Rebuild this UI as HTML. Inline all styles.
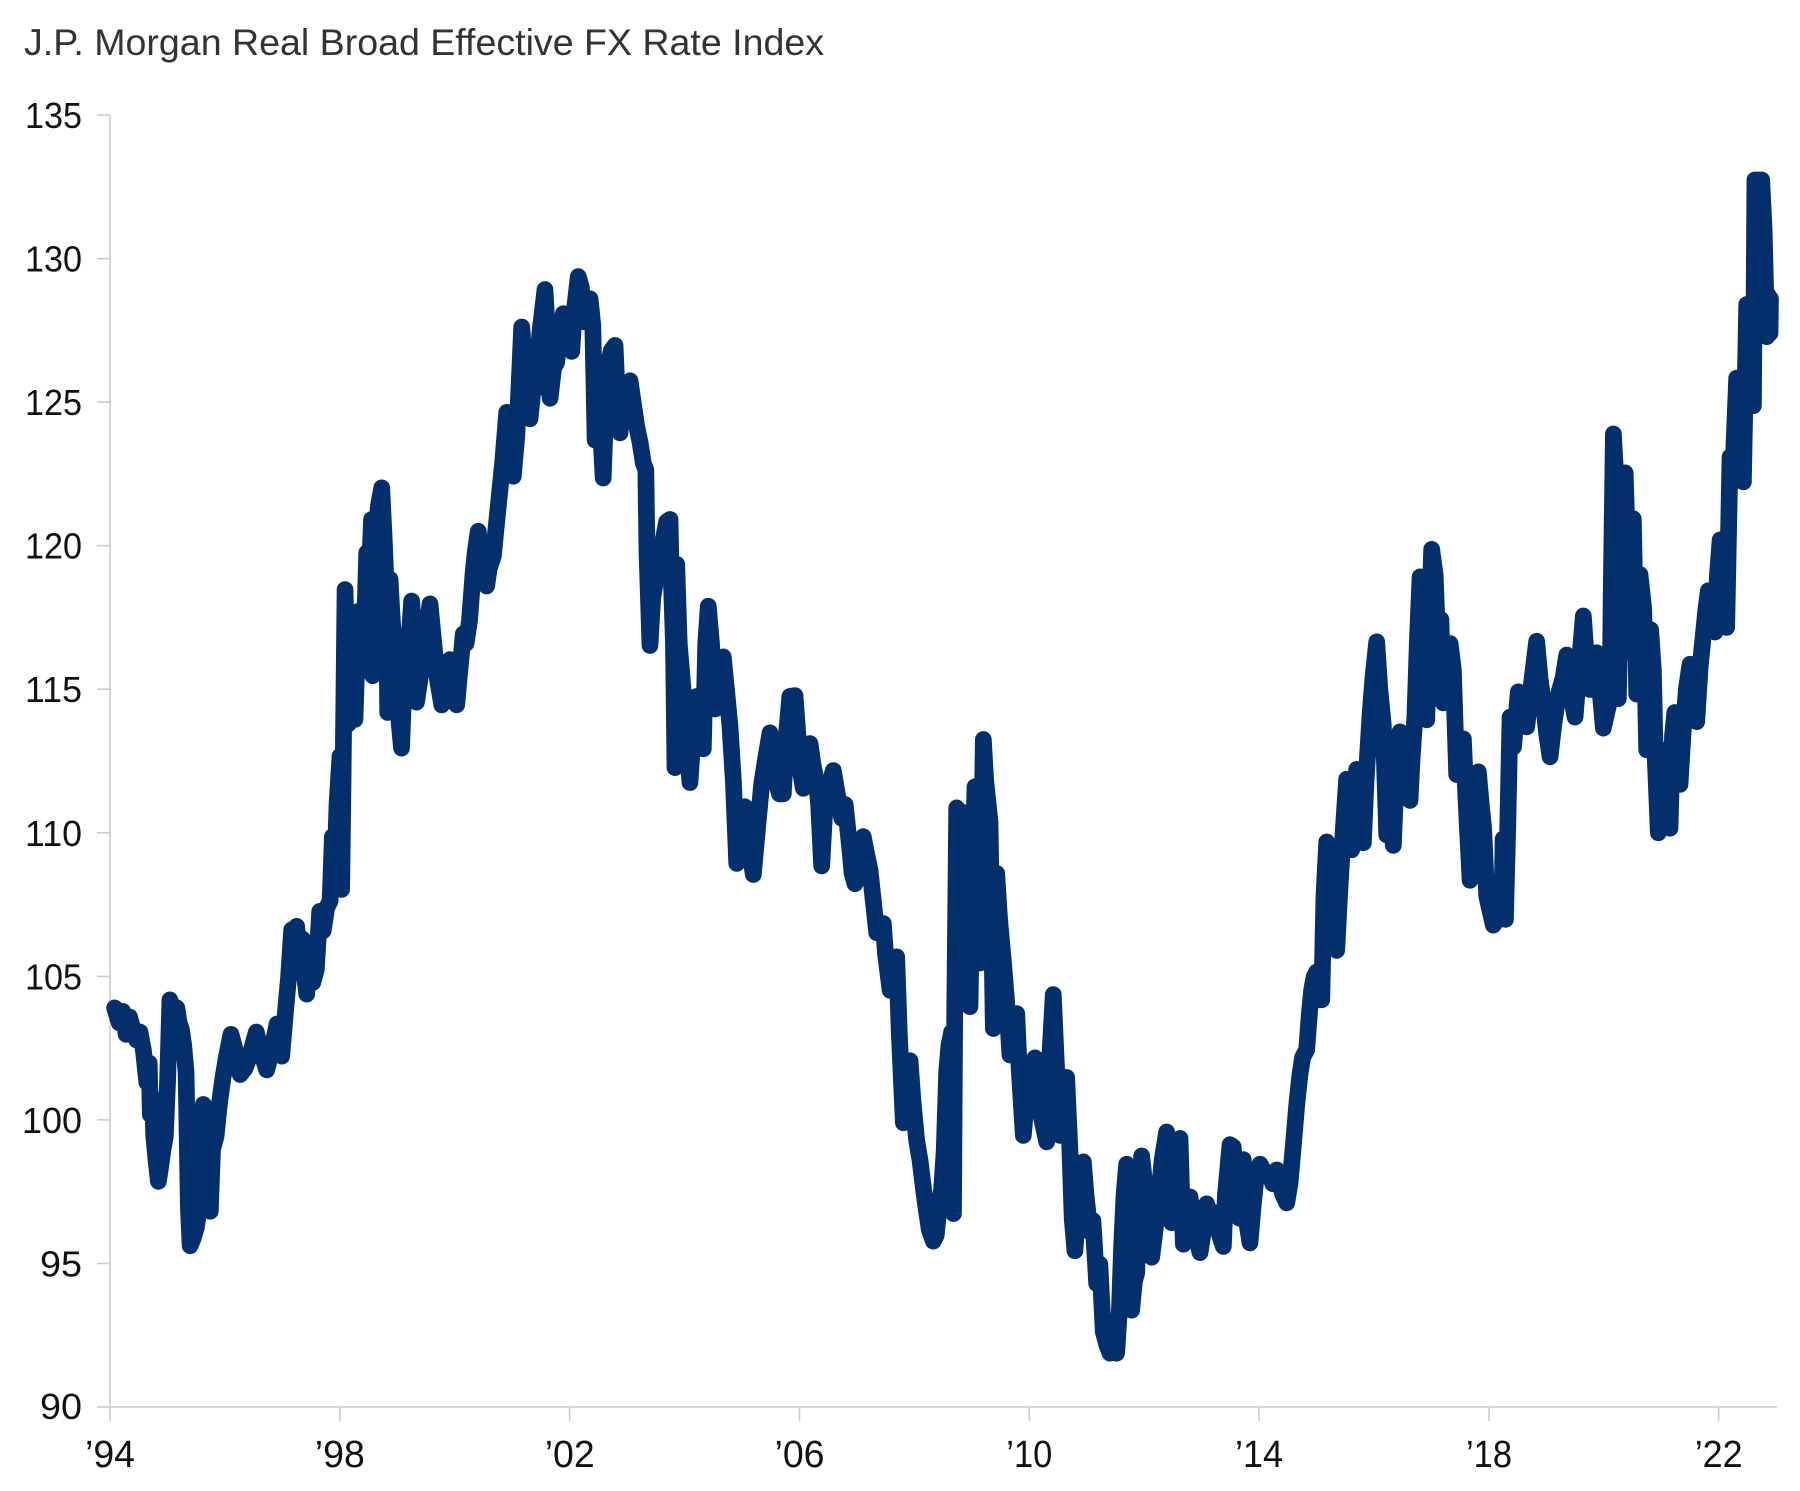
<!DOCTYPE html>
<html>
<head>
<meta charset="utf-8">
<style>
  html, body { margin: 0; padding: 0; background: #ffffff; }
  body { width: 1800px; height: 1491px; overflow: hidden; }
  svg { display: block; }
  text { font-family: "Liberation Sans", "DejaVu Sans", sans-serif; }
</style>
</head>
<body>
<svg width="1800" height="1491" viewBox="0 0 1800 1491" xmlns="http://www.w3.org/2000/svg">
  <rect x="0" y="0" width="1800" height="1491" fill="#ffffff"/>

  <!-- Title -->
  <text x="24" y="55" font-size="37" fill="#333333" textLength="800" lengthAdjust="spacingAndGlyphs">J.P. Morgan Real Broad Effective FX Rate Index</text>

  <!-- Axes -->
  <g stroke="#cccccc" stroke-width="1.6" fill="none">
    <line x1="110" y1="115" x2="110" y2="1407"/>
    <line x1="110" y1="1407" x2="1777" y2="1407"/>
    <line x1="97" y1="115" x2="110" y2="115"/>
    <line x1="97" y1="258.6" x2="110" y2="258.6"/>
    <line x1="97" y1="402.1" x2="110" y2="402.1"/>
    <line x1="97" y1="545.7" x2="110" y2="545.7"/>
    <line x1="97" y1="689.2" x2="110" y2="689.2"/>
    <line x1="97" y1="832.8" x2="110" y2="832.8"/>
    <line x1="97" y1="976.4" x2="110" y2="976.4"/>
    <line x1="97" y1="1119.9" x2="110" y2="1119.9"/>
    <line x1="97" y1="1263.5" x2="110" y2="1263.5"/>
    <line x1="97" y1="1407" x2="110" y2="1407"/>
    <line x1="110" y1="1407" x2="110" y2="1421"/>
    <line x1="339.8" y1="1407" x2="339.8" y2="1421"/>
    <line x1="569.7" y1="1407" x2="569.7" y2="1421"/>
    <line x1="799.5" y1="1407" x2="799.5" y2="1421"/>
    <line x1="1029.3" y1="1407" x2="1029.3" y2="1421"/>
    <line x1="1259" y1="1407" x2="1259" y2="1421"/>
    <line x1="1489" y1="1407" x2="1489" y2="1421"/>
    <line x1="1718.7" y1="1407" x2="1718.7" y2="1421"/>
  </g>

  <!-- Y labels -->
  <g font-size="36" fill="#111111" text-anchor="end">
    <text x="82" y="128" textLength="57" lengthAdjust="spacingAndGlyphs">135</text>
    <text x="82" y="271.6" textLength="57" lengthAdjust="spacingAndGlyphs">130</text>
    <text x="82" y="415.1" textLength="57" lengthAdjust="spacingAndGlyphs">125</text>
    <text x="82" y="558.7" textLength="57" lengthAdjust="spacingAndGlyphs">120</text>
    <text x="82" y="702.2" textLength="57" lengthAdjust="spacingAndGlyphs">115</text>
    <text x="82" y="845.8" textLength="57" lengthAdjust="spacingAndGlyphs">110</text>
    <text x="82" y="989.4" textLength="57" lengthAdjust="spacingAndGlyphs">105</text>
    <text x="82" y="1132.9" textLength="60" lengthAdjust="spacingAndGlyphs">100</text>
    <text x="82" y="1276.5" textLength="42" lengthAdjust="spacingAndGlyphs">95</text>
    <text x="82" y="1419" textLength="42" lengthAdjust="spacingAndGlyphs">90</text>
  </g>

  <!-- X labels -->
  <g font-size="38" fill="#111111" text-anchor="middle">
    <text x="110" y="1467" textLength="50" lengthAdjust="spacingAndGlyphs">’94</text>
    <text x="339.8" y="1467" textLength="50" lengthAdjust="spacingAndGlyphs">’98</text>
    <text x="569.7" y="1467" textLength="50" lengthAdjust="spacingAndGlyphs">’02</text>
    <text x="799.5" y="1467" textLength="50" lengthAdjust="spacingAndGlyphs">’06</text>
    <text x="1029.3" y="1467" textLength="46" lengthAdjust="spacingAndGlyphs">’10</text>
    <text x="1259" y="1467" textLength="48" lengthAdjust="spacingAndGlyphs">’14</text>
    <text x="1489" y="1467" textLength="46" lengthAdjust="spacingAndGlyphs">’18</text>
    <text x="1718.7" y="1467" textLength="48" lengthAdjust="spacingAndGlyphs">’22</text>
  </g>

  <!-- Series -->
  <g transform="matrix(1.1523 0 0 1.1493 0.53 -0.07)">
    <polyline fill="none" stroke="#03306c" stroke-width="14.5" stroke-linejoin="round" stroke-linecap="round"
      points="99,877 103,890 106,880 109,900 112,885 115,896 118,905 121,898 124,914 127,942 129,925 130,970 132,955 133,989 135,1010 137,1028 139,1015 141,1000 143,989 145,940 147,870 150,880 153,877 155,890 157,896 159,910 161,933 162,990 163,1050 164.5,1084 167,1078 170,1068 173,1045 176,961 178,1000 180,1030 182,1054 184,1000 187,989 190,960 193,938 196,920 200,900 204,915 208,935 212,930 216,920 220,905 222,898 226,915 231,931 235,915 240,891 244,919 248,872 250,850 252.7,809 255,830 257,806 260,840 262,817 264,850 265.7,865 268,830 271,855 274,844 277,793 280,810 283,790 286,784 288,728 290,760 292,700 294.6,658 295,720 296,774 297,700 299,513 300,560 301.8,630 304,600 307.6,626 310.5,532 313,560 315,579 317.8,481 320,500 322,452 323,588 325,480 328,440 330.8,424.5 333,470 335,520 336,620 337,540 338,504 340,540 342,565 344,600 346,630 348,651 350,600 351,555 353,580 356.8,523 359,560 361,611 364,591 368,560 372.7,525.5 376,560 379,590 382.9,613.4 386,590 390,574 393,600 395.9,613.4 398,590 401.6,551.6 404,560 407,540 410,500 412,480 414.6,462.3 418,490 421.9,510 424,495 427.7,483.7 430,460 433.5,425 436,400 439.3,358.8 442,385 445,414.5 448,380 452.3,284.5 455,320 459.5,364.5 462,340 465.3,338 468,290 472.5,252 475,300 476.9,346.6 480,320 482.6,315.5 485,290 488.4,273 492,290 495.7,305.8 498,270 501.4,240.7 504,250 506,280 509,265 511.6,260 514,283 516,383 518,330 520,360 523,416 525,360 527.4,318 530,305 533.3,300.6 535,340 537.6,376.7 540,350 543,335 546.3,331.3 549,350 552,370.6 555,385 557.8,403 560,409 561,480 563.6,561.7 566,520 569.4,500 572,480 575,470 578.1,454 581,452 582,500 584,560 585.3,668 586.8,491 589,560 592.5,602 595,640 598.3,681 601,640 604,606 607,620 609.9,651.6 612,560 614.2,527.5 617,560 620,617 624,590 627.2,571.6 630,600 633,631.6 636,680 638.9,751.3 642,720 646,702 650,740 653.3,761 657,720 660.6,682 664,660 667.8,637.7 670,660 673.6,682 676,690.8 679.3,690.8 682,640 685,606 689.5,605.3 692,640 694,670 696.7,686 699,660 702.5,647 705,665 708.3,682 710,700 712.6,753.5 715,710 717,692 720,680 722.7,670.5 726,690 730,712 733,700 737.2,740 739,760 741.5,769 744,750 748.7,728 751,740 754.5,757 757,780 760.4,811.7 763,805 766.1,803.6 768,830 772,861.7 775,845 777.7,832.6 780,900 783.5,977 786,940 789.3,923 792,960 795,992 798,1010 800.8,1033 803,1050 806,1070 809.5,1080 812,1075 814,1055 816.8,1034 819,1000 821.1,933 823,910 825.4,898 826,960 827,1056 828,890 829.8,703 832,710 835.5,707 838,740 840,800 841.3,876 843,780 845.7,684.6 848,760 850,838 852.9,643.5 855,680 858.7,715 861.6,895 863,820 864.5,760 867,800 870.3,836.5 873,870 876,918 879,890 881.9,882 884,930 887.6,988 890,960 893,930 897.7,920.5 900,945 903.5,973 905,980 907.9,993.6 910,930 913.6,865.4 916,920 919.4,988 922,960 925.2,937.5 928,1000 930,1060 932.4,1088.4 935,1050 939.7,1011 942,1040 945.5,1072 948,1062 951.3,1117 954,1100 957,1159 960,1170 962.8,1177.5 965,1165 968.6,1177.5 971,1140 973,1083 975,1040 977.3,1013 979,1070 981.6,1140 984,1115 986,1107.6 988,1040 990.3,1005.8 992.5,1026 995,1060 999,1094 1002,1070 1004.8,1045 1008,1010 1012,985 1014,1020 1016.4,1064 1020,1020 1023.6,990.6 1025,1040 1026.5,1082.7 1029,1060 1032.3,1041.5 1036,1070 1041,1090 1044,1070 1046.7,1047.5 1050,1060 1053,1055 1055.4,1064 1058,1075 1061.2,1084.6 1063,1040 1067,996 1069.8,998 1072,1030 1075,1060 1078.5,1009 1081,1060 1084.3,1081.5 1087,1050 1090,1020 1093,1013 1097,1020 1101.7,1022 1104,1030 1107.5,1018 1110,1030 1113,1040 1116.2,1046.7 1119,1030 1122,996 1125,960 1127.7,935 1130,920 1133.5,913.5 1136,880 1137.9,861 1140,850 1142.2,845.7 1144.5,870 1146.6,870 1148.5,780 1150.9,732.6 1153,770 1155.2,805 1157.5,820 1159.6,827 1162,780 1165.3,722 1168.2,678 1170,700 1172.5,739.5 1174.5,700 1176.9,669.5 1179,700 1182.7,733.4 1185,680 1188.5,622 1191,590 1194.3,558.5 1197,600 1200,630.8 1203,726.5 1206,700 1208.7,735.6 1211,680 1214.5,636.8 1217,650 1220,670 1223.2,696.5 1225,660 1227.5,622 1229.5,560 1231.9,502 1234,560 1235.5,610 1237.7,626.4 1240,540 1242,478 1245,500 1247.8,574.2 1250,539 1252.1,611.7 1255,590 1258,560 1260.8,583 1263.7,674 1266,660 1269.5,643 1272,700 1275.3,766 1278,730 1280,700 1282.5,671.6 1285,700 1287,720 1289.8,780 1292,790 1295.5,805 1299,800 1302.8,798.7 1304,730 1306,800 1308,720 1310,624 1313,650 1317.2,602 1320,615 1322,625 1324.5,632.5 1328,600 1333.1,558 1336,590 1338.9,612.5 1342,640 1344.7,658.6 1348,630 1352,604 1356,590 1359.2,570 1362,600 1366.4,624 1370,580 1373.6,536 1376,570 1379.4,600 1382,580 1385.2,568 1388,600 1391,633.6 1394,620 1396.8,608 1398,500 1399.7,377.6 1402,420 1404,608 1406,500 1409.9,411.5 1412,480 1414.1,568 1417,451.5 1419.9,604 1422.8,500 1426,530 1428.6,652.5 1430,560 1432,548 1434.4,584 1436,660 1438.7,724.7 1441,700 1444.5,652.5 1446.5,690 1448.8,720.7 1451,640 1453,620 1455,650 1457.5,682.6 1460,640 1463,600 1466.2,578 1469,600 1472,628 1475,580 1477.8,552 1480,530 1482.1,514 1485,540 1487.9,550 1490,500 1492.3,469.8 1495,500 1498,546 1500.9,397.6 1503,420 1506.7,329 1509,370 1512.5,419.3 1515.4,265 1518,300 1521.2,353 1522.5,156.6 1526,156.6 1528.4,156.6 1530.5,200 1532.8,293 1534,257 1535.6,290 1536,260"/>
  </g>
</svg>
</body>
</html>
